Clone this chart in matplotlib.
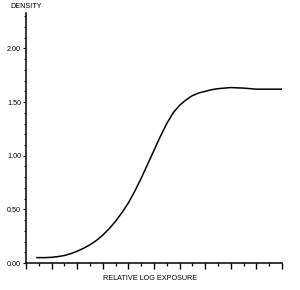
import matplotlib
matplotlib.use("Agg")
import matplotlib.pyplot as plt
from matplotlib.ticker import MultipleLocator, NullFormatter

log_exposure = [0.43, 0.75, 1.0, 1.25, 1.5, 1.75, 2.0, 2.25, 2.5, 2.75, 3.0,
                3.25, 3.5, 3.75, 4.0, 4.25, 4.5, 4.75, 5.0, 5.25, 5.5, 5.75,
                6.0, 6.25, 6.5, 6.75, 7.0, 7.25, 7.5, 8.0, 8.5, 9.0, 9.5, 10.0]
density = [0.05, 0.05, 0.053, 0.06, 0.07, 0.087, 0.11, 0.137, 0.17, 0.21, 0.26,
           0.32, 0.39, 0.47, 0.56, 0.67, 0.79, 0.92, 1.05, 1.18, 1.30, 1.40,
           1.47, 1.52, 1.56, 1.585, 1.60, 1.615, 1.625, 1.635, 1.63, 1.62, 1.62, 1.62]
y_major = [0.0, 0.5, 1.0, 1.5, 2.0]
y_labels = ["0.00", "0.50", "1.00", "1.50", "2.00"]

plt.rcParams['font.family'] = ['Liberation Sans', 'DejaVu Sans']

fig = plt.figure(figsize=(3.0, 2.9), dpi=100)
ax = fig.add_axes([26/300, 27/290, 256/300, 250/290])
ax.plot(log_exposure, density, color='black', lw=1.1)

ax.set_xlim(0, 10)
ax.set_ylim(0, 2.33)
for s in ['top', 'right']:
    ax.spines[s].set_visible(False)
for s in ['left', 'bottom']:
    ax.spines[s].set_linewidth(1.1)

ax.set_yticks(y_major)
ax.set_yticklabels(y_labels, fontsize=5.2)
ax.yaxis.set_minor_locator(MultipleLocator(0.1))
ax.xaxis.set_major_locator(MultipleLocator(1))
ax.xaxis.set_minor_locator(MultipleLocator(0.5))
ax.xaxis.set_major_formatter(NullFormatter())
ax.tick_params(axis='y', which='major', length=2.5, width=0.8, pad=1, direction='out')
ax.tick_params(axis='y', which='minor', length=1.5, width=0.8, direction='out')
ax.tick_params(axis='x', which='major', length=4, width=1.0, direction='out')
ax.tick_params(axis='x', which='minor', length=1.8, width=0.9, direction='out')

fig.text(26/300, 1 - 6/290, "DENSITY", fontsize=5.2, ha='center', va='center')
fig.text(150/300, 1 - 278/290, "RELATIVE LOG EXPOSURE", fontsize=5.2, ha='center', va='center')

fig.savefig("out.png", dpi=100)
